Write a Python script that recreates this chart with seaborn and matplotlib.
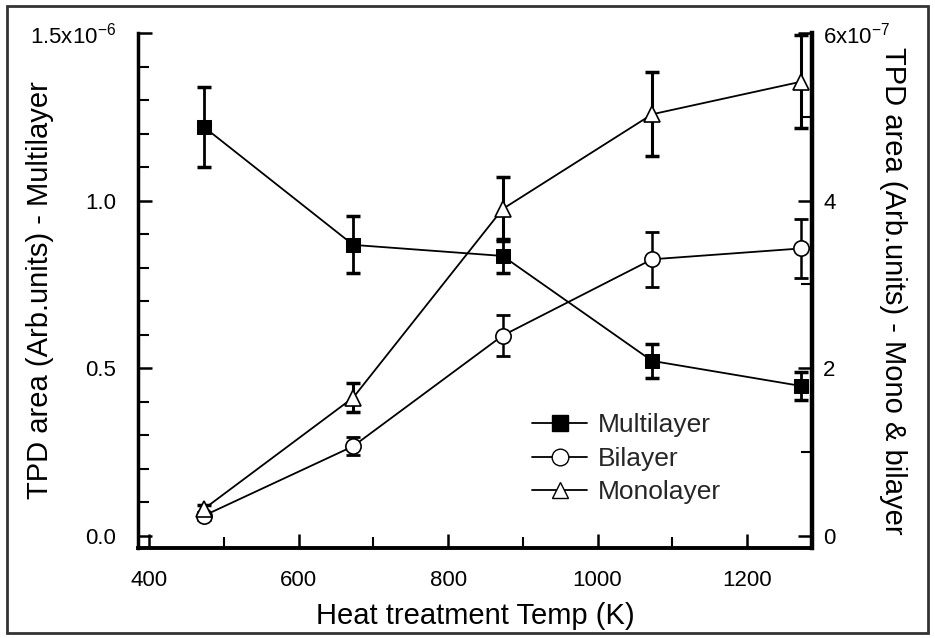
import numpy as np
import pandas as pd
import matplotlib
matplotlib.use("Agg")
import matplotlib.pyplot as plt
from matplotlib.ticker import FixedLocator, FixedFormatter, MultipleLocator
from matplotlib.lines import Line2D
from matplotlib.patches import Rectangle
import seaborn as sns

# ---- data ----
temps = [473, 673, 873, 1073, 1273]
multilayer = [1.22e-6, 0.868e-6, 0.835e-6, 0.522e-6, 0.447e-6]
multilayer_err = [0.12e-6, 0.085e-6, 0.05e-6, 0.05e-6, 0.042e-6]
bilayer = [0.24e-7, 1.07e-7, 2.39e-7, 3.30e-7, 3.43e-7]
bilayer_err = [0.05e-7, 0.11e-7, 0.24e-7, 0.33e-7, 0.35e-7]
monolayer = [0.32e-7, 1.65e-7, 3.90e-7, 5.03e-7, 5.42e-7]
monolayer_err = [0.05e-7, 0.17e-7, 0.38e-7, 0.50e-7, 0.55e-7]

x_ticks = [400, 600, 800, 1000, 1200]
left_ticks = [0.0, 0.5e-6, 1.0e-6, 1.5e-6]
left_labels = ["0.0", "0.5", "1.0", r"1.5x10$^{\mathregular{-6}}$"]
right_ticks = [0, 2e-7, 4e-7, 6e-7]
right_labels = ["0", "2", "4", r"6x10$^{\mathregular{-7}}$"]

sns.set_theme(style="ticks")
plt.rcParams["font.family"] = ["Liberation Sans", "DejaVu Sans"]

fig = plt.figure(figsize=(9.35, 6.38), dpi=100)
ax = fig.add_axes([0.1476, 0.1411, 0.8684 - 0.1476, 0.9483 - 0.1411])
ax2 = ax.twinx()

df_m = pd.DataFrame({"T": temps, "v": multilayer})
df_b = pd.DataFrame({"T": temps, "v": bilayer})
df_o = pd.DataFrame({"T": temps, "v": monolayer})

sns.lineplot(data=df_m, x="T", y="v", ax=ax, color="black", lw=1.3,
             marker="s", markersize=10, markerfacecolor="black",
             markeredgecolor="black", zorder=3)
ax.errorbar(temps, multilayer, yerr=multilayer_err, fmt="none",
            ecolor="black", elinewidth=2, capsize=5, capthick=2.5, zorder=2)

sns.lineplot(data=df_b, x="T", y="v", ax=ax2, color="black", lw=1.3,
             marker="o", markersize=11, markerfacecolor="white",
             markeredgecolor="black", markeredgewidth=1.2, zorder=3)
ax2.errorbar(temps, bilayer, yerr=bilayer_err, fmt="none",
             ecolor="black", elinewidth=1.8, capsize=5, capthick=2, zorder=2)

sns.lineplot(data=df_o, x="T", y="v", ax=ax2, color="black", lw=1.3,
             marker="^", markersize=11, markerfacecolor="white",
             markeredgecolor="black", markeredgewidth=1.2, zorder=3)
ax2.errorbar(temps, monolayer, yerr=monolayer_err, fmt="none",
             ecolor="black", elinewidth=2.2, capsize=5, capthick=2.5, zorder=2)

# limits
ax.set_xlim(385, 1287)
ax.set_ylim(-0.036e-6, 1.5e-6)
ax2.set_ylim(-0.036e-6 * 0.4, 6e-7)

# ticks
ax.xaxis.set_major_locator(FixedLocator(x_ticks))
ax.xaxis.set_minor_locator(MultipleLocator(100))
ax.yaxis.set_major_locator(FixedLocator(left_ticks))
ax.yaxis.set_major_formatter(FixedFormatter(left_labels))
ax.yaxis.set_minor_locator(MultipleLocator(0.1e-6))
ax2.yaxis.set_major_locator(FixedLocator(right_ticks))
ax2.yaxis.set_major_formatter(FixedFormatter(right_labels))
ax2.yaxis.set_minor_locator(MultipleLocator(1e-7))

for a in (ax, ax2):
    a.tick_params(which="both", direction="in", labelsize=16, color="black",
                  labelcolor="black")
    a.tick_params(which="major", length=10, width=1.8)
    a.tick_params(which="minor", length=8, width=1.5)
ax.tick_params(axis="y", right=False, pad=16)
ax.tick_params(axis="x", top=False, pad=16)
ax2.tick_params(axis="y", left=False, right=True, pad=8)

for a in (ax, ax2):
    a.spines["top"].set_visible(False)
    a.set_facecolor("none")
ax.spines["left"].set_linewidth(2.5)
ax.spines["bottom"].set_linewidth(2.8)
ax.spines["right"].set_visible(False)
ax2.spines["left"].set_visible(False)
ax2.spines["bottom"].set_visible(False)
ax2.spines["right"].set_linewidth(3.2)
for s in ax.spines.values():
    s.set_color("black")
ax2.spines["right"].set_color("black")

ax.set_xlabel("Heat treatment Temp (K)", fontsize=21, labelpad=8, color="black")
ax.set_ylabel("TPD area (Arb.units) - Multilayer", fontsize=21, color="black",
              va="center")
ax.yaxis.set_label_coords(-0.145, 0.5)
ax2.set_ylabel("TPD area (Arb.units) - Mono & bilayer", fontsize=21,
               rotation=-90, color="black", va="center")
ax2.yaxis.set_label_coords(1.12, 0.5)

handles = [
    Line2D([], [], color="black", lw=1.3, marker="s", markersize=11,
           markerfacecolor="black", markeredgecolor="black"),
    Line2D([], [], color="black", lw=1.3, marker="o", markersize=12,
           markerfacecolor="white", markeredgecolor="black"),
    Line2D([], [], color="black", lw=1.3, marker="^", markersize=12,
           markerfacecolor="white", markeredgecolor="black"),
]
leg = ax2.legend(handles, ["Multilayer", "Bilayer", "Monolayer"],
                 loc="center", bbox_to_anchor=(0.725, 0.173), frameon=False,
                 fontsize=19, handlelength=2.1, handletextpad=0.4,
                 labelspacing=0.36)

fig.patches.append(Rectangle((0.008, 0.008), 0.984, 0.983, transform=fig.transFigure,
                             fill=False, edgecolor="#333333", lw=2))

fig.savefig("out.png", dpi=100)
